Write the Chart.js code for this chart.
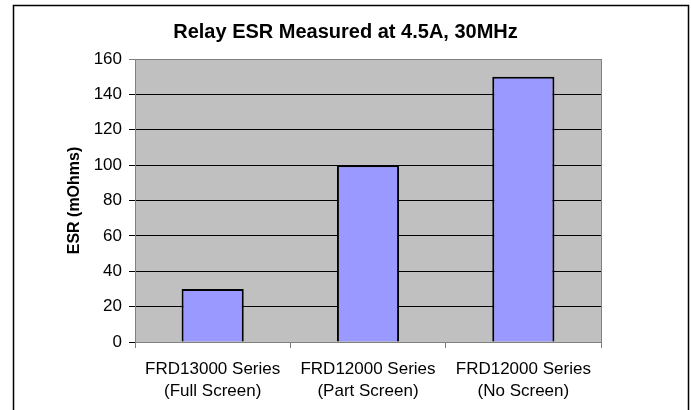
<!DOCTYPE html>
<html lang="en">
<head>
    <meta charset="UTF-8">
    <title>Relay ESR Measured at 4.5A, 30MHz</title>
    <script src="https://cdn.jsdelivr.net/npm/chart.js"></script>
    <style>
        body {
            margin: 0;
            padding: 0;
            background-color: #fff;
        }
        canvas {
            display: block;
        }
    </style>
</head>
<body>

    <canvas id="esrChart" width="691" height="410"></canvas>

    <script>
        // Данные графика
        var categories = [
            ['FRD13000 Series', '(Full Screen)'],
            ['FRD12000 Series', '(Part Screen)'],
            ['FRD12000 Series', '(No Screen)']
        ];
        var esrValues = [30, 100, 150];
        var yTicks = [0, 20, 40, 60, 80, 100, 120, 140, 160];

        var fontFamily = 'Arial, "Liberation Sans", sans-serif';

        // фон области построения, рамка вокруг всего графика
        var framePlugin = {
            id: 'frame',
            beforeDraw: function (chart) {
                var ctx = chart.ctx;
                var a = chart.chartArea;
                ctx.save();
                ctx.fillStyle = '#fff';
                ctx.fillRect(0, 0, chart.width, chart.height);
                ctx.strokeStyle = '#000';
                ctx.lineWidth = 1.5;
                ctx.strokeRect(13.5, 5.5, 675, 420);
                ctx.fillStyle = '#c0c0c0';
                ctx.fillRect(a.left, a.top, a.right - a.left, a.bottom - a.top);
                ctx.restore();
            },
            afterDraw: function (chart) {
                var ctx = chart.ctx;
                var a = chart.chartArea;
                ctx.save();
                ctx.strokeStyle = '#808080';
                ctx.lineWidth = 1;
                ctx.beginPath();
                ctx.moveTo(Math.round(a.right) + 0.5, a.top);
                ctx.lineTo(Math.round(a.right) + 0.5, a.bottom);
                ctx.stroke();
                ctx.restore();
            }
        };

        var ctx = document.getElementById('esrChart').getContext('2d');
        var esrChart = new Chart(ctx, {
            type: 'bar',
            data: {
                labels: categories,
                datasets: [{
                    label: 'ESR',
                    data: esrValues,
                    backgroundColor: '#9999ff',
                    borderColor: '#000',
                    borderWidth: 2,
                    categoryPercentage: 1,
                    barPercentage: 0.4
                }]
            },
            options: {
                responsive: false,
                animation: false,
                devicePixelRatio: 1,
                layout: {
                    padding: { left: 14, right: 14, top: 10, bottom: 0 }
                },
                plugins: {
                    legend: { display: false },
                    tooltip: { enabled: false },
                    title: {
                        display: true,
                        text: 'Relay ESR Measured at 4.5A, 30MHz',
                        color: '#000',
                        font: { family: fontFamily, size: 20, weight: 'bold' },
                        padding: { top: 10, bottom: 15 }
                    }
                },
                scales: {
                    x: {
                        offset: true,
                        afterFit: function (scale) { scale.height = 68; },
                        grid: {
                            offset: true,
                            drawOnChartArea: false,
                            tickLength: 6,
                            color: '#808080'
                        },
                        border: { color: '#808080' },
                        ticks: {
                            color: '#000',
                            font: { family: fontFamily, size: 17, lineHeight: 1.3 },
                            padding: 10,
                            maxRotation: 0,
                            autoSkip: false
                        }
                    },
                    y: {
                        min: 0,
                        max: 160,
                        afterFit: function (scale) { scale.width = 121; },
                        afterBuildTicks: function (scale) {
                            scale.ticks = yTicks.map(function (v) { return { value: v }; });
                        },
                        grid: {
                            tickLength: 6,
                            color: function (c) {
                                return c.tick && c.tick.value === 160 ? '#808080' : '#000';
                            }
                        },
                        border: { color: '#808080' },
                        ticks: {
                            color: '#000',
                            font: { family: fontFamily, size: 17 },
                            padding: 7
                        },
                        title: {
                            display: true,
                            text: 'ESR (mOhms)',
                            color: '#000',
                            font: { family: fontFamily, size: 16, weight: 'bold' },
                            padding: { top: 51, bottom: 0 }
                        }
                    },
                    // пустая ось справа, только чтобы оставить место
                    spacer: {
                        type: 'linear',
                        position: 'right',
                        afterFit: function (scale) { scale.width = 76; },
                        grid: { display: false },
                        border: { display: false },
                        ticks: { display: false }
                    }
                }
            },
            plugins: [framePlugin]
        });
    </script>
</body>
</html>
